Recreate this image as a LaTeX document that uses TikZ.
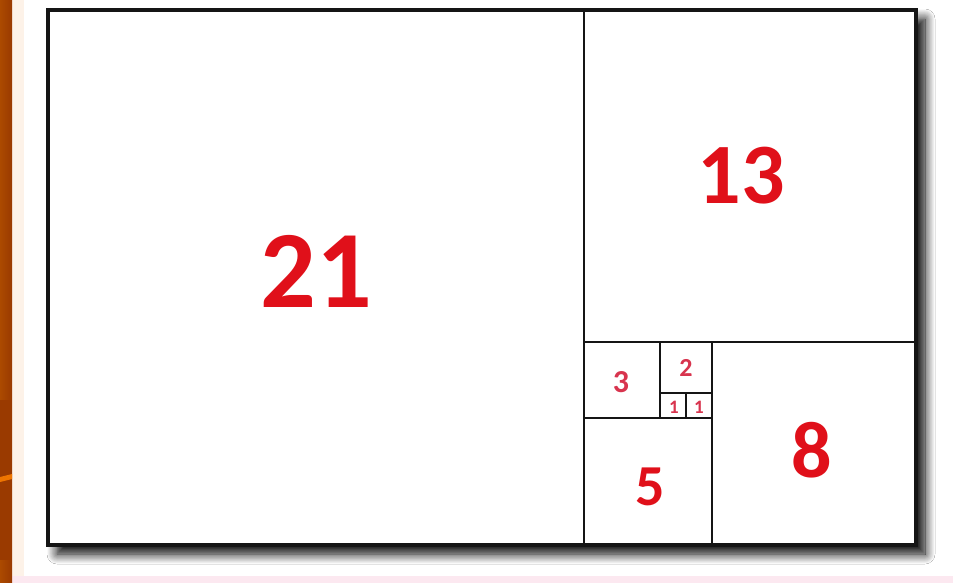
\documentclass[tikz,border=0pt]{standalone}
\usepackage{fontspec}
\setmainfont{Carlito}
\usetikzlibrary{shadows.blur}
\definecolor{numred}{HTML}{E0101A}
\definecolor{smallred}{HTML}{D8344E}
\definecolor{edgeorange}{HTML}{AC4A00}
\definecolor{darkorange}{HTML}{9A3A00}
\definecolor{cream}{HTML}{FDF2E8}
\definecolor{pinkish}{HTML}{FCE8F0}
\definecolor{framecol}{HTML}{151515}
\tikzset{
  frameline/.style={draw=framecol, line width=3.5pt},
  innerline/.style={draw=framecol, line width=2.8pt},
  bignum/.style={text=numred, font=\bfseries\fontsize{#1}{#1}\selectfont, inner sep=0pt},
  smallnum/.style={text=smallred, font=\bfseries\fontsize{#1}{#1}\selectfont, inner sep=0pt}
}
\begin{document}
\begin{tikzpicture}[x=1pt,y=-1pt]
\useasboundingbox (0,0) rectangle (953,583);
% background
\fill[white] (0,0) rectangle (953,583);
\fill[cream] (12,0) rectangle (24,583);
\fill[pinkish] (12,576) rectangle (953,583);
\fill[left color=edgeorange, right color=darkorange] (0,0) rectangle (12,583);
\fill[darkorange] (0,400) rectangle (12,560);
\fill[orange!80!edgeorange] (0,477) -- (12,474) -- (12,479) -- (0,482) -- cycle;
% shadow + frame
\path[fill=white, blur shadow={shadow xshift=9pt, shadow yshift=-9pt, shadow blur radius=10pt, shadow opacity=100, shadow blur steps=12}] (48,10) rectangle (916,545);
% inner lines
\draw[innerline] (584,10) -- (584,545);
\draw[innerline] (584,342) -- (916,342);
\draw[innerline] (712,342) -- (712,545);
\draw[innerline] (584,418) -- (712,418);
\draw[innerline] (660,342) -- (660,418);
\draw[innerline] (660,393) -- (712,393);
\draw[innerline] (686,393) -- (686,418);
\draw[frameline] (48,10) rectangle (916,545);
% labels
\node[bignum=110] (n21) at (316,271) {21};
\node[bignum=86] (n13) at (741,176) {13};
\node[bignum=80] (n8) at (812,450) {8};
\node[bignum=58] (n5) at (650,487) {5};
\node[smallnum=32] (n3) at (621,382) {3};
\node[smallnum=26] (n2) at (686,368) {2};
\node[smallnum=19] (n1a) at (674,407) {1};
\node[smallnum=19] (n1b) at (699,407) {1};
\end{tikzpicture}
\end{document}
